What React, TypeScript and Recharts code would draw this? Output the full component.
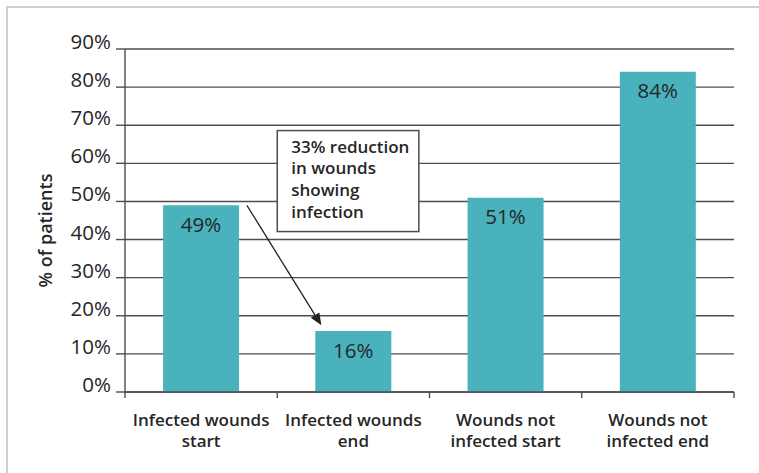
import React from 'react';
import {
  BarChart,
  Bar,
  XAxis,
  YAxis,
  CartesianGrid,
  LabelList,
  ReferenceArea,
  ReferenceLine,
} from 'recharts';

const categories = [
  'Infected wounds start',
  'Infected wounds end',
  'Wounds not infected start',
  'Wounds not infected end',
];
const categoryLines = [
  ['Infected wounds', 'start'],
  ['Infected wounds', 'end'],
  ['Wounds not', 'infected start'],
  ['Wounds not', 'infected end'],
];
const patientPct = [49, 16, 51, 84];
const yTicks = [0, 10, 20, 30, 40, 50, 60, 70, 80, 90];
const edgeTicks = [0, 1, 2, 3, 4];
const noteLines = ['33% reduction', 'in wounds', 'showing', 'infection'];

// annotation anchors, in axis units (x: category edges, y: %)
const noteBox = { x1: 1.0, x2: 1.93, y1: 42.1, y2: 68.6 };
const arrowFrom = { x: 0.8, y: 49 };
const arrowTo = { x: 1.29, y: 17.5 };

const data = categories.map((name, i) => ({ name, slot: i + 0.5, value: patientPct[i] }));

const FONT = '"Open Sans", "Noto Sans", sans-serif';
const INK = '#262626';
const LINE = '#4d4d4d';
const TEAL = '#49b2bc';
const EDGE_AXIS = 0; // numeric id so it stacks next to the plot

const YTick = ({ x, y, payload }: any) => (
  <text x={x} y={y} dy={0} textAnchor="end" fontFamily={FONT} fontSize={20.5} fontWeight={500} fill={INK}>
    {payload.value}%
  </text>
);

const EmptyTick = () => <g />;

const XTick = ({ x, y, index }: any) => {
  const lines = categoryLines[index] || [];
  return (
    <text x={x} y={y} textAnchor="middle" fontFamily={FONT} fontSize={17} fontWeight={600} fill={INK}>
      {lines.map((l, i) => (
        <tspan key={i} x={x} dy={i === 0 ? 33 : 21}>
          {l}
        </tspan>
      ))}
    </text>
  );
};

const NoteBox = ({ x, y, width, height }: any) => (
  <g>
    <rect x={x} y={y} width={width} height={height} fill="#fff" stroke={LINE} strokeWidth={1.5} />
    <text x={x + 14} y={y + 22} fontFamily={FONT} fontSize={17} fontWeight={600} fill={INK}>
      {noteLines.map((l, i) => (
        <tspan key={i} x={x + 14} dy={i === 0 ? 0 : 21.7}>
          {l}
        </tspan>
      ))}
    </text>
  </g>
);

const Arrow = ({ x1, y1, x2, y2 }: any) => {
  const dx = x2 - x1;
  const dy = y2 - y1;
  const len = Math.sqrt(dx * dx + dy * dy);
  const ux = dx / len;
  const uy = dy / len;
  const head = 12;
  const half = 5;
  const bx = x2 - ux * head;
  const by = y2 - uy * head;
  return (
    <g>
      <line x1={x1} y1={y1} x2={bx} y2={by} stroke="#222" strokeWidth={1.3} />
      <polygon
        points={`${x2},${y2} ${bx - uy * half},${by + ux * half} ${bx + uy * half},${by - ux * half}`}
        fill="#222"
      />
    </g>
  );
};

const YTitle = ({ viewBox }: any) => {
  const cx = viewBox.x + 45;
  const cy = viewBox.y + viewBox.height / 2 + 10;
  return (
    <text
      x={cx}
      y={cy}
      transform={`rotate(-90, ${cx}, ${cy})`}
      textAnchor="middle"
      dominantBaseline="central"
      fontFamily={FONT}
      fontSize={18}
      fontWeight={600}
      fill={INK}
    >
      % of patients
    </text>
  );
};

export default function App() {
  return (
    <div style={{ position: 'absolute', left: 0, top: 0, width: 759, height: 473, background: '#fff' }}>
      <div
        style={{
          position: 'absolute',
          left: 6,
          top: 6,
          width: 753,
          height: 467,
          borderLeft: '2px solid #cfcfcf',
          borderTop: '2px solid #cfcfcf',
        }}
      />
      <div style={{ position: 'absolute', left: 0, top: 0 }}>
        <BarChart
          width={759}
          height={473}
          data={data}
          margin={{ top: 49, right: 25, left: 0, bottom: 0 }}
          barCategoryGap="25%"
        >
          <CartesianGrid vertical={false} stroke={LINE} strokeWidth={1.4} />
          <XAxis
            xAxisId={EDGE_AXIS}
            dataKey="slot"
            type="number"
            scale="linear"
            domain={[0, categories.length]}
            allowDataOverflow
            ticks={edgeTicks}
            interval={0}
            tick={<EmptyTick />}
            height={1}
            tickSize={6}
            axisLine={{ stroke: LINE, strokeWidth: 1.4 }}
            tickLine={{ stroke: LINE, strokeWidth: 1.4 }}
          />
          <XAxis
            xAxisId="cat"
            dataKey="name"
            height={80}
            axisLine={false}
            tickLine={false}
            tickSize={0}
            tickMargin={0}
            interval={0}
            tick={<XTick />}
          />
          <YAxis
            width={125}
            domain={[0, 90]}
            ticks={yTicks}
            interval={0}
            tickSize={9}
            tickMargin={5}
            axisLine={{ stroke: LINE, strokeWidth: 1.4 }}
            tickLine={{ stroke: LINE, strokeWidth: 1.4 }}
            tick={<YTick />}
            label={<YTitle />}
          />
          <Bar xAxisId="cat" dataKey="value" fill={TEAL} isAnimationActive={false}>
            <LabelList
              dataKey="value"
              position="insideTop"
              offset={12}
              formatter={(v: any) => `${v}%`}
              fontFamily={FONT}
              fontSize={20.5}
              fontWeight={500}
              fill={INK}
            />
          </Bar>
          <ReferenceArea
            xAxisId={EDGE_AXIS}
            x1={noteBox.x1}
            x2={noteBox.x2}
            y1={noteBox.y1}
            y2={noteBox.y2}
            shape={<NoteBox />}
          />
          <ReferenceLine
            xAxisId={EDGE_AXIS}
            segment={[arrowFrom, arrowTo]}
            shape={<Arrow />}
          />
        </BarChart>
      </div>
    </div>
  );
}
